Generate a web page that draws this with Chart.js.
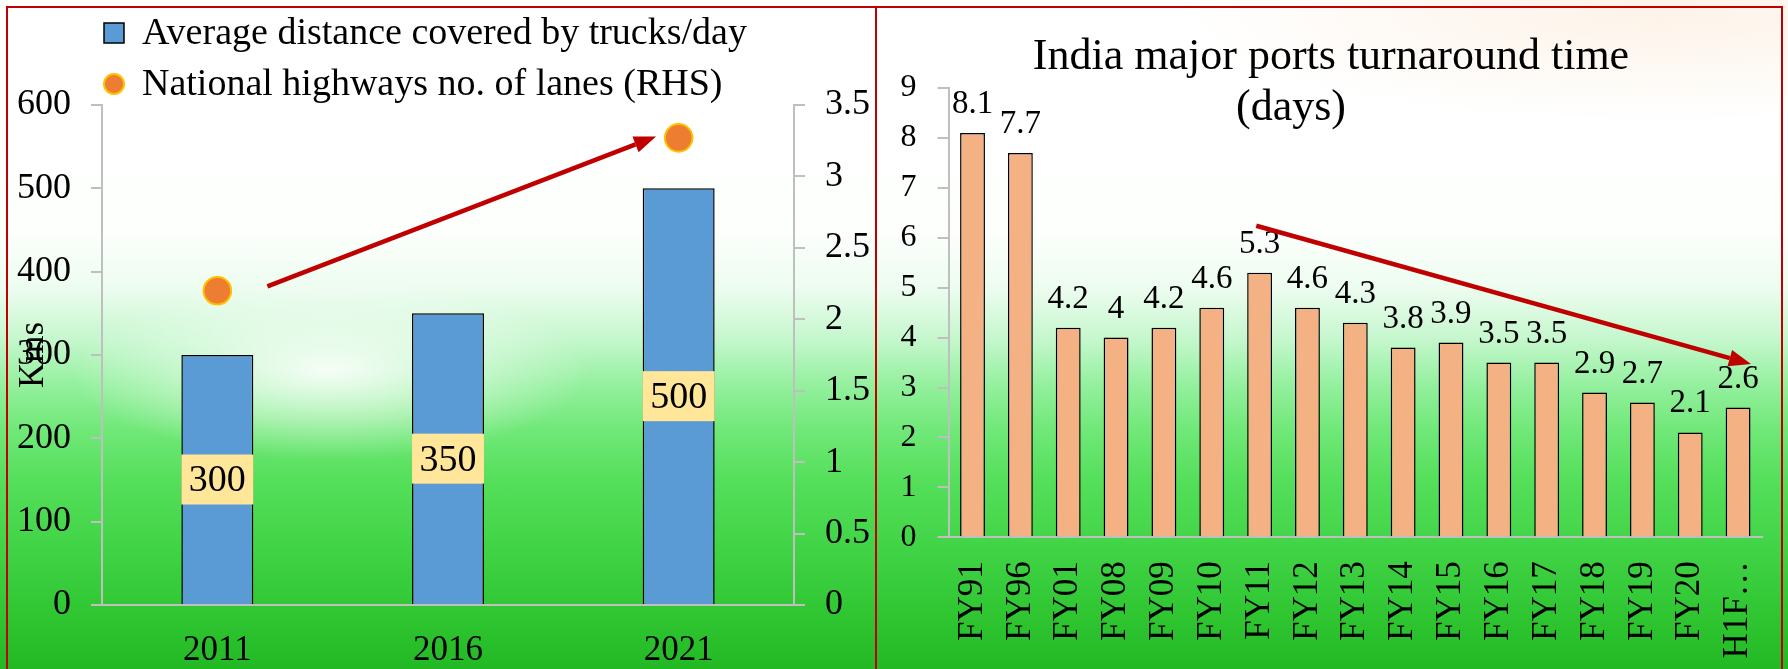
<!DOCTYPE html>
<html>
<head>
<meta charset="utf-8">
<script src="https://cdn.jsdelivr.net/npm/chart.js@4.4.1/dist/chart.umd.min.js"></script>
<style>
  html, body { margin: 0; padding: 0; width: 1788px; height: 669px; overflow: hidden; }
  body {
    position: relative;
    background:
      radial-gradient(ellipse 260px 90px at 330px 370px, rgba(255,255,255,0.9), rgba(255,255,255,0) 100%),
      radial-gradient(ellipse 480px 110px at 1660px 10px, rgba(252,232,212,0.55), rgba(252,232,212,0) 100%),
      linear-gradient(to bottom, #ffffff 0px, #fdfffd 230px, #ecfcef 290px, #c4f7cc 340px, #94f09e 385px, #70e878 430px, #55df5b 480px, #42d447 545px, #2fc632 615px, #22b925 669px);
  }
  canvas { position: absolute; top: 0; }
  #leftChart { left: 0; }
  #rightChart { left: 876px; }
  .frame { position: absolute; border: 2px solid #C00000; box-sizing: border-box; pointer-events: none; }
</style>
</head>
<body>
<canvas id="leftChart" width="876" height="669"></canvas>
<canvas id="rightChart" width="906" height="669"></canvas>
<div class="frame" style="left:6px; top:6px; width:871px; height:680px;"></div>
<div class="frame" style="left:875px; top:6px; width:908px; height:680px;"></div>
<script>
// ---- Road freight panel ----
const truckYears = ['2011', '2016', '2021'];
const truckKms = [300, 350, 500];
const highwayLanes = [2.2, null, 3.27];
const kmsTicks = [0, 100, 200, 300, 400, 500, 600];
const laneTicks = [0, 0.5, 1, 1.5, 2, 2.5, 3, 3.5];

// ---- Port turnaround panel ----
const portYears = ['FY91', 'FY96', 'FY01', 'FY08', 'FY09', 'FY10', 'FY11', 'FY12', 'FY13',
                   'FY14', 'FY15', 'FY16', 'FY17', 'FY18', 'FY19', 'FY20', 'H1FY21'];
const turnaroundDays = [8.1, 7.7, 4.2, 4, 4.2, 4.6, 5.3, 4.6, 4.3, 3.8, 3.9, 3.5, 3.5, 2.9, 2.7, 2.1, 2.6];
const dayTicks = [0, 1, 2, 3, 4, 5, 6, 7, 8, 9];

const SERIF = '"Liberation Serif", "Times New Roman", Times, serif';
const AXIS_GREY = '#BFBFBF';

function fixedTicks(values) {
  return function (scale) { scale.ticks = values.map(v => ({ value: v })); };
}
const plainNumber = v => String(v);

// value boxes centred inside each bar
const barValueBoxes = {
  id: 'barValueBoxes',
  afterDatasetsDraw(chart, args, opts) {
    const ctx = chart.ctx;
    const meta = chart.getDatasetMeta(opts.datasetIndex);
    const values = chart.data.datasets[opts.datasetIndex].data;
    ctx.save();
    ctx.font = `${opts.size}px ${SERIF}`;
    ctx.textAlign = 'center';
    ctx.textBaseline = 'middle';
    meta.data.forEach((bar, i) => {
      const cy = (bar.y + bar.base) / 2;
      const w = bar.width, h = opts.boxHeight;
      ctx.fillStyle = opts.fill;
      ctx.fillRect(bar.x - w / 2, cy - h / 2, w, h);
      ctx.fillStyle = '#000';
      ctx.fillText(String(values[i]), bar.x, cy + 2);
    });
    ctx.restore();
  }
};

// value labels sitting above each bar
const barTopLabels = {
  id: 'barTopLabels',
  afterDatasetsDraw(chart, args, opts) {
    const ctx = chart.ctx;
    const meta = chart.getDatasetMeta(0);
    const values = chart.data.datasets[0].data;
    ctx.save();
    ctx.font = `${opts.size}px ${SERIF}`;
    ctx.textAlign = 'center';
    ctx.textBaseline = 'alphabetic';
    ctx.fillStyle = '#000';
    meta.data.forEach((bar, i) => {
      ctx.fillText(String(values[i]), bar.x, bar.y - opts.gap);
    });
    ctx.restore();
  }
};

// trend arrow given in data coordinates
const trendArrow = {
  id: 'trendArrow',
  afterDatasetsDraw(chart, args, opts) {
    const ctx = chart.ctx;
    const xs = chart.scales.x, ys = chart.scales[opts.yAxis];
    const x1 = xs.getPixelForValue(opts.from[0]), y1 = ys.getPixelForValue(opts.from[1]);
    const x2 = xs.getPixelForValue(opts.to[0]), y2 = ys.getPixelForValue(opts.to[1]);
    const ang = Math.atan2(y2 - y1, x2 - x1);
    const bx = x2 - Math.cos(ang) * opts.headLength, by = y2 - Math.sin(ang) * opts.headLength;
    ctx.save();
    ctx.strokeStyle = opts.color;
    ctx.fillStyle = opts.color;
    ctx.lineWidth = opts.width;
    ctx.beginPath();
    ctx.moveTo(x1, y1);
    ctx.lineTo(bx, by);
    ctx.stroke();
    const px = -Math.sin(ang) * opts.headWidth / 2, py = Math.cos(ang) * opts.headWidth / 2;
    ctx.beginPath();
    ctx.moveTo(x2, y2);
    ctx.lineTo(bx + px, by + py);
    ctx.lineTo(bx - px, by - py);
    ctx.closePath();
    ctx.fill();
    ctx.restore();
  }
};

// stacked legend rows in the top-left corner
const stackedLegend = {
  id: 'stackedLegend',
  afterDraw(chart, args, opts) {
    const ctx = chart.ctx;
    ctx.save();
    ctx.font = `${opts.size}px ${SERIF}`;
    ctx.textAlign = 'left';
    ctx.textBaseline = 'middle';
    chart.data.datasets.forEach((ds, i) => {
      const cy = opts.top + i * opts.rowGap;
      const cx = opts.left + 10;
      if (ds.type === 'line') {
        ctx.beginPath();
        ctx.arc(cx, cy, 10, 0, Math.PI * 2);
        ctx.fillStyle = ds.pointBackgroundColor;
        ctx.fill();
        ctx.lineWidth = 2;
        ctx.strokeStyle = ds.pointBorderColor;
        ctx.stroke();
      } else {
        ctx.fillStyle = ds.backgroundColor;
        ctx.fillRect(cx - 10, cy - 10, 20, 20);
        ctx.lineWidth = 1.5;
        ctx.strokeStyle = ds.borderColor;
        ctx.strokeRect(cx - 10, cy - 10, 20, 20);
      }
      ctx.fillStyle = '#000';
      ctx.fillText(ds.label, opts.left + opts.textOffset, cy + 1);
    });
    ctx.restore();
  }
};

// two-line chart heading
const panelHeading = {
  id: 'panelHeading',
  afterDraw(chart, args, opts) {
    const ctx = chart.ctx;
    ctx.save();
    ctx.font = `${opts.size}px ${SERIF}`;
    ctx.textAlign = 'center';
    ctx.textBaseline = 'alphabetic';
    ctx.fillStyle = '#000';
    opts.lines.forEach((t, i) => ctx.fillText(t, opts.x[i], opts.baselines[i]));
    ctx.restore();
  }
};

const tickGrid = {
  display: true, drawOnChartArea: false, drawTicks: true, tickLength: 11,
  color: AXIS_GREY, lineWidth: 2
};

new Chart(document.getElementById('leftChart'), {
  type: 'bar',
  data: {
    labels: truckYears,
    datasets: [
      {
        type: 'bar',
        label: 'Average distance covered by trucks/day',
        data: truckKms,
        yAxisID: 'y',
        backgroundColor: '#5B9BD5',
        borderColor: '#000000',
        borderWidth: 1.5,
        categoryPercentage: 1,
        barPercentage: 0.312,
        order: 2
      },
      {
        type: 'line',
        label: 'National highways no. of lanes (RHS)',
        data: highwayLanes,
        yAxisID: 'y2',
        showLine: false,
        pointRadius: 13.8,
        pointBackgroundColor: '#ED7D31',
        pointBorderColor: '#FFC000',
        pointBorderWidth: 2,
        order: 1
      }
    ]
  },
  options: {
    responsive: false,
    animation: false,
    events: [],
    layout: { padding: { top: 105, left: 0, right: 0, bottom: 0 } },
    plugins: {
      legend: { display: false },
      tooltip: { enabled: false },
      barValueBoxes: { datasetIndex: 0, size: 38, boxHeight: 50, fill: '#FFE699' },
      trendArrow: { yAxis: 'y2', from: [0.217, 2.23], to: [1.902, 3.28], color: '#C00000', width: 4.5, headLength: 22, headWidth: 17 },
      stackedLegend: { left: 104, top: 33, rowGap: 51, textOffset: 38, size: 38 }
    },
    scales: {
      x: {
        grid: { display: false, drawTicks: false },
        border: { display: true, color: AXIS_GREY, width: 2 },
        ticks: { font: { family: SERIF, size: 35 }, color: '#000', padding: 25 },
        afterFit(s) { s.height = 64; }
      },
      y: {
        position: 'left',
        min: 0, max: 600,
        afterBuildTicks: fixedTicks(kmsTicks),
        grid: tickGrid,
        border: { display: true, color: AXIS_GREY, width: 2 },
        ticks: { font: { family: SERIF, size: 36 }, color: '#000', padding: 20, callback: plainNumber },
        title: { display: true, text: 'Kms', font: { family: SERIF, size: 35 }, color: '#000', padding: { top: 13, bottom: 0 } },
        afterFit(s) { s.width = 102; }
      },
      y2: {
        position: 'right',
        min: 0, max: 3.5,
        afterBuildTicks: fixedTicks(laneTicks),
        grid: tickGrid,
        border: { display: true, color: AXIS_GREY, width: 2 },
        ticks: { font: { family: SERIF, size: 36 }, color: '#000', padding: 20, callback: plainNumber },
        afterFit(s) { s.width = 82; }
      }
    }
  },
  plugins: [barValueBoxes, trendArrow, stackedLegend]
});

new Chart(document.getElementById('rightChart'), {
  type: 'bar',
  data: {
    labels: portYears,
    datasets: [{
      label: 'India major ports turnaround time (days)',
      data: turnaroundDays,
      backgroundColor: '#F4B183',
      borderColor: '#000000',
      borderWidth: 1.5,
      categoryPercentage: 1,
      barPercentage: 0.52
    }]
  },
  options: {
    responsive: false,
    animation: false,
    events: [],
    layout: { padding: { top: 88, left: 0, right: 20, bottom: 0 } },
    plugins: {
      legend: { display: false },
      tooltip: { enabled: false },
      barTopLabels: { size: 33, gap: 20 },
      trendArrow: { yAxis: 'y', from: [5.93, 6.24], to: [16.27, 3.47], color: '#C00000', width: 4.5, headLength: 22, headWidth: 17 },
      panelHeading: { lines: ['India major ports turnaround time', '(days)'], x: [455, 415], baselines: [69, 120], size: 44 }
    },
    scales: {
      x: {
        grid: { display: false, drawTicks: false },
        border: { display: true, color: AXIS_GREY, width: 2 },
        ticks: {
          font: { family: SERIF, size: 35 }, color: '#000', padding: 24,
          autoSkip: false, minRotation: 90, maxRotation: 90,
          callback(value) {
            const t = this.getLabelForValue(value);
            return t.length > 5 ? t.slice(0, 3) + '…' : t;
          }
        },
        afterFit(s) { s.height = 131.7; s.paddingLeft = 0; s.paddingRight = 0; }
      },
      y: {
        min: 0, max: 9,
        afterBuildTicks: fixedTicks(dayTicks),
        grid: tickGrid,
        border: { display: true, color: AXIS_GREY, width: 2 },
        ticks: { font: { family: SERIF, size: 32 }, color: '#000', padding: 21, callback: plainNumber },
        afterFit(s) { s.width = 72.6; }
      }
    }
  },
  plugins: [barTopLabels, trendArrow, panelHeading]
});
</script>
</body>
</html>
